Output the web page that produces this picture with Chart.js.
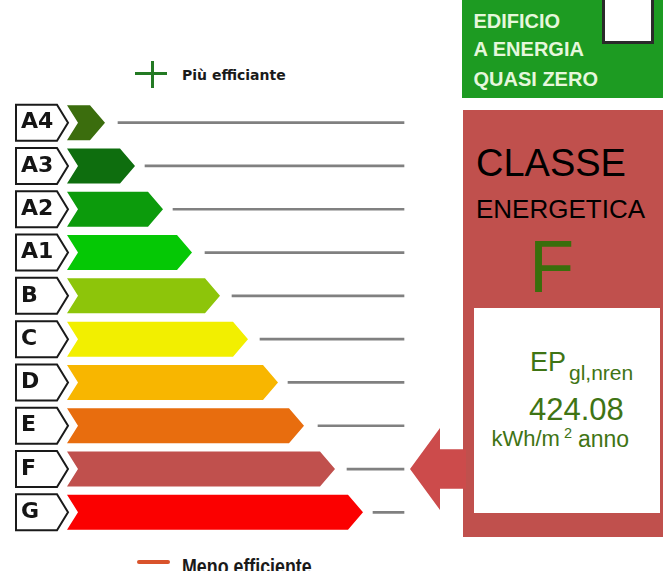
<!DOCTYPE html>
<html lang="it">
<head>
<meta charset="utf-8">
<title>Classe energetica</title>
<script src="https://cdn.jsdelivr.net/npm/chart.js@4/dist/chart.umd.min.js"></script>
<style>
  html, body { margin: 0; padding: 0; background: #ffffff; }
  #wrap { position: relative; width: 663px; height: 571px; overflow: hidden; background: #fff; }
  #c { position: absolute; left: 0; top: 0; z-index: 2; }
  .abs { position: absolute; white-space: nowrap; line-height: 1; }
  .lib { font-family: "Liberation Sans", Arial, sans-serif; }
</style>
</head>
<body>
<div id="wrap">
  <!-- legend markers / texts -->
  <div class="abs" style="left:135px;top:72px;width:32px;height:3px;background:#237a23;"></div>
  <div class="abs" style="left:151px;top:61px;width:3px;height:27px;background:#237a23;"></div>
  <div class="abs" id="topLegend" style="left:182px;top:68px;font-family:'DejaVu Sans',sans-serif;font-weight:bold;font-size:14px;color:#1a1a1a;"></div>
  <div class="abs" style="left:137px;top:560px;width:33px;height:4px;background:#d9532b;border-radius:2px;"></div>
  <div class="abs lib" id="bottomLegend" style="left:182px;top:556px;font-weight:bold;font-size:22px;color:#1a1a1a;transform:scaleX(0.81);transform-origin:0 0;"></div>

  <!-- green NZEB panel -->
  <div class="abs" style="left:462px;top:0;width:201px;height:98px;background:#1d9b22;"></div>
  <div class="abs lib" id="nz1" style="left:473.5px;top:10.5px;font-weight:bold;font-size:20px;color:#e6f7dc;"></div>
  <div class="abs lib" id="nz2" style="left:473.5px;top:39px;font-weight:bold;font-size:20px;color:#e6f7dc;"></div>
  <div class="abs lib" id="nz3" style="left:473.5px;top:68.5px;font-weight:bold;font-size:20px;color:#e6f7dc;"></div>
  <div class="abs" style="left:602px;top:-3px;width:52px;height:47px;box-sizing:border-box;border:3px solid #2a2a2a;background:#fff;"></div>

  <!-- red class panel -->
  <div class="abs" style="left:463px;top:110px;width:200px;height:427px;background:#c0504d;"></div>
  <div class="abs lib" id="t1" style="left:476px;top:143.8px;font-size:38px;color:#000;"></div>
  <div class="abs lib" id="t2" style="left:476px;top:196px;font-size:26px;color:#000;"></div>
  <div class="abs lib" id="tClass" style="left:529px;top:230.4px;font-size:74px;color:#3a6e0c;"></div>
  <div class="abs" style="left:474px;top:308px;width:186px;height:205px;background:#fff;"></div>
  <div class="abs lib" id="ep" style="left:530px;top:349.2px;font-size:27px;color:#3f7414;"></div>
  <div class="abs lib" id="epSub" style="left:569px;top:362.2px;font-size:21px;color:#3f7414;"></div>
  <div class="abs lib" id="epVal" style="left:529px;top:393.8px;font-size:31px;color:#3f7414;"></div>
  <div class="abs lib" id="u1" style="left:491.5px;top:428.4px;font-size:22px;color:#3f7414;"></div>
  <div class="abs lib" id="u2" style="left:564px;top:425.8px;font-size:14.5px;color:#3f7414;"></div>
  <div class="abs lib" id="u3" style="left:578px;top:428px;font-size:23px;color:#3f7414;"></div>

  <canvas id="c" width="663" height="571"></canvas>
</div>
<script>
// ---------- data ----------
const classLabels = ['A4', 'A3', 'A2', 'A1', 'B', 'C', 'D', 'E', 'F', 'G'];
const classColors = ['#3b6d0d', '#0e6e0e', '#0c9b0c', '#05c805', '#8dc50a', '#f2ef00', '#f8b600', '#e86d0e', '#c0504d', '#fb0000'];
const tagStart = 16;
const tagEnd = 68;
const barStart = 67;
const barEnd = [105, 135, 163, 192, 220, 248, 278, 304, 335, 363];
const lineStart = [118, 145, 173, 205, 232, 260, 288, 318, 347, 373];
const lineEnd = 404;
const currentClass = 'F';
const indicatorStart = 410;
const indicatorEnd = 466;
const epValue = '424.08';
const topLegendText = 'Più efficiante';
const bottomLegendText = 'Meno efficiente';
const nzebLines = ['EDIFICIO', 'A ENERGIA', 'QUASI ZERO'];
const panelTitle = ['CLASSE', 'ENERGETICA'];
const epLabel = 'EP';
const epSubLabel = 'gl,nren';
const unitParts = ['kWh/m', '2', 'anno'];

// ---------- texts ----------
document.getElementById('topLegend').textContent = topLegendText;
document.getElementById('bottomLegend').textContent = bottomLegendText;
document.getElementById('nz1').textContent = nzebLines[0];
document.getElementById('nz2').textContent = nzebLines[1];
document.getElementById('nz3').textContent = nzebLines[2];
document.getElementById('t1').textContent = panelTitle[0];
document.getElementById('t2').textContent = panelTitle[1];
document.getElementById('tClass').textContent = currentClass;
document.getElementById('ep').textContent = epLabel;
document.getElementById('epSub').textContent = epSubLabel;
document.getElementById('epVal').textContent = epValue;
document.getElementById('u1').textContent = unitParts[0];
document.getElementById('u2').textContent = unitParts[1];
document.getElementById('u3').textContent = unitParts[2];

// ---------- custom shapes ----------
const shapePlugin = {
  id: 'shapes',
  beforeDatasetDraw(chart, args) {
    const ds = chart.data.datasets[args.index];
    if (!ds.shape) return;
    const ctx = chart.ctx;
    args.meta.data.forEach((el, i) => {
      if (ds.data[i] == null) return;
      const p = el.getProps(['x', 'y', 'base', 'height'], true);
      if (![p.x, p.y, p.base, p.height].every(Number.isFinite)) return;
      const x = p.x, y = p.y, base = p.base, h = p.height;
      const t = y - h / 2, b = y + h / 2;
      const fill = Array.isArray(ds.backgroundColor) ? ds.backgroundColor[i] : ds.backgroundColor;
      ctx.save();
      ctx.beginPath();
      if (ds.shape === 'chevron') {
        const pt = 15, notch = 11;
        ctx.moveTo(base, t);
        ctx.lineTo(x - pt, t);
        ctx.lineTo(x, y);
        ctx.lineTo(x - pt, b);
        ctx.lineTo(base, b);
        ctx.lineTo(base + notch, y);
        ctx.closePath();
        ctx.fillStyle = fill;
        ctx.fill();
      } else if (ds.shape === 'tag') {
        const pt = 11;
        ctx.moveTo(base, t);
        ctx.lineTo(x - pt, t);
        ctx.lineTo(x, y);
        ctx.lineTo(x - pt, b);
        ctx.lineTo(base, b);
        ctx.closePath();
        ctx.fillStyle = fill;
        ctx.fill();
        ctx.lineWidth = 2;
        ctx.lineJoin = 'miter';
        ctx.strokeStyle = ds.borderColor;
        ctx.stroke();
      } else if (ds.shape === 'pointer') {
        const head = 30, shaft = h * 0.24;
        ctx.moveTo(base, y);
        ctx.lineTo(base + head, t);
        ctx.lineTo(base + head, y - shaft);
        ctx.lineTo(x, y - shaft);
        ctx.lineTo(x, y + shaft);
        ctx.lineTo(base + head, y + shaft);
        ctx.lineTo(base + head, b);
        ctx.closePath();
        ctx.fillStyle = fill;
        ctx.fill();
      }
      ctx.restore();
    });
    return false;
  }
};

new Chart(document.getElementById('c'), {
  type: 'bar',
  data: {
    labels: classLabels,
    datasets: [
      {
        label: 'tag',
        shape: 'tag',
        data: classLabels.map(() => [tagStart, tagEnd]),
        backgroundColor: '#ffffff',
        borderColor: '#1a1a1a',
        barThickness: 36,
        grouped: false
      },
      {
        label: 'classe',
        shape: 'chevron',
        data: barEnd.map(e => [barStart, e]),
        backgroundColor: classColors,
        barThickness: 35,
        grouped: false
      },
      {
        label: 'scala',
        data: lineStart.map(s => [s, lineEnd]),
        backgroundColor: '#808080',
        barThickness: 2,
        grouped: false
      },
      {
        label: 'indicatore',
        shape: 'pointer',
        data: classLabels.map(c => c === currentClass ? [indicatorStart, indicatorEnd] : null),
        backgroundColor: '#cc4b4b',
        barThickness: 82,
        grouped: false
      }
    ]
  },
  options: {
    indexAxis: 'y',
    responsive: false,
    animation: false,
    layout: { padding: { left: 0, right: 0, top: 101, bottom: 37 } },
    scales: {
      x: { type: 'linear', min: 11, max: 663, display: false },
      y: {
        afterFit(scale) { scale.width = 11; },
        grid: { display: false, drawTicks: false },
        border: { display: false },
        ticks: {
          z: 1,
          mirror: true,
          padding: 10,
          color: '#151515',
          font: { family: 'DejaVu Sans', weight: 'bold', size: 22 }
        }
      }
    },
    plugins: {
      legend: { display: false },
      tooltip: { enabled: false },
      title: { display: false }
    }
  },
  plugins: [shapePlugin]
});
</script>
</body>
</html>
